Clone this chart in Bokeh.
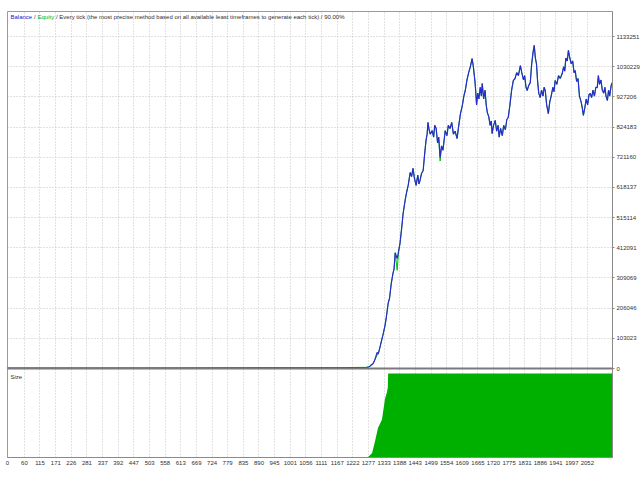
from bokeh.plotting import figure
from bokeh.models import FixedTicker, Label, Span, Range1d, LinearAxis
from bokeh.embed import file_html
from bokeh.resources import INLINE

# ---------------- data ----------------
x_tick_labels = ["0", "60", "115", "171", "226", "281", "337", "392", "447", "503",
                 "558", "613", "669", "724", "779", "835", "890", "945", "1001", "1056",
                 "1111", "1167", "1222", "1277", "1333", "1388", "1443", "1499", "1554",
                 "1609", "1665", "1720", "1775", "1831", "1886", "1941", "1997", "2052"]
y_tick_labels = ["0", "103023", "206046", "309069", "412091", "515114", "618137",
                 "721160", "824183", "927206", "1030229", "1133251"]

trade = [0, 300, 600, 900, 1100, 1200, 1272, 1280, 1294, 1300, 1308, 1312, 1318, 1325,
         1330, 1336, 1340, 1347, 1352, 1358, 1364, 1368, 1372, 1379, 1384, 1389, 1395,
         1400, 1407, 1412, 1418, 1425, 1430, 1435, 1440, 1446, 1452, 1456, 1460, 1465,
         1471, 1476, 1481, 1485, 1488, 1492, 1496, 1503, 1508, 1512, 1517, 1522, 1526,
         1531, 1536, 1541, 1549, 1555, 1560, 1566, 1572, 1578, 1584, 1591, 1597, 1603,
         1610, 1615, 1620, 1626, 1632, 1638, 1644, 1648, 1652, 1655, 1660, 1664, 1668,
         1673, 1677, 1680, 1685, 1690, 1694, 1698, 1703, 1708, 1712, 1715, 1720, 1726,
         1731, 1736, 1740, 1745, 1751, 1756, 1762, 1767, 1772, 1778, 1784, 1790, 1796,
         1802, 1808, 1815, 1820, 1826, 1830, 1835, 1839, 1844, 1850, 1855, 1860, 1864,
         1868, 1872, 1876, 1880, 1885, 1890, 1895, 1899, 1903, 1908, 1914, 1919, 1924,
         1930, 1934, 1938, 1944, 1950, 1956, 1963, 1968, 1972, 1976, 1981, 1985, 1990,
         1995, 2000, 2005, 2009, 2014, 2019, 2024, 2030, 2034, 2038, 2043, 2048, 2053,
         2058, 2062, 2067, 2072, 2077, 2082, 2087, 2091, 2095, 2100, 2105, 2110, 2114,
         2118, 2123, 2127, 2131, 2136, 2140]
balance = [1000, 1300, 1700, 2100, 2600, 3200, 4000, 6000, 17000, 30000, 55000, 50000,
           72000, 100000, 120000, 147000, 170000, 222000, 240000, 290000, 324000, 340000,
           395000, 375000, 400000, 427000, 480000, 529000, 573000, 600000, 625000, 669000,
           655000, 683000, 650000, 625000, 660000, 630000, 642000, 665000, 676000, 730000,
           778000, 800000, 840000, 815000, 800000, 812000, 790000, 830000, 819000, 770000,
           790000, 720000, 760000, 745000, 812000, 795000, 830000, 819000, 840000, 800000,
           810000, 785000, 830000, 870000, 900000, 930000, 949000, 985000, 1010000,
           1030000, 1058000, 1035000, 1000000, 973000, 900000, 940000, 920000, 960000,
           930000, 973000, 920000, 950000, 900000, 874000, 860000, 830000, 845000, 802000,
           830000, 847000, 810000, 830000, 790000, 820000, 795000, 830000, 815000, 850000,
           857000, 900000, 950000, 983000, 990000, 1010000, 1000000, 1034000, 1010000,
           985000, 1000000, 960000, 949000, 965000, 976000, 1040000, 1080000, 1103000,
           1060000, 1040000, 980000, 940000, 925000, 950000, 930000, 960000, 949000,
           900000, 870000, 910000, 930000, 960000, 945000, 983000, 970000, 1000000, 990000,
           1007000, 1030000, 1015000, 1060000, 1050000, 1086000, 1060000, 1040000, 1050000,
           1010000, 1017000, 980000, 990000, 930000, 910000, 890000, 864000, 890000,
           920000, 900000, 935000, 939000, 925000, 950000, 930000, 960000, 959000, 1000000,
           970000, 985000, 950000, 940000, 960000, 930000, 915000, 950000, 930000, 965000,
           976000]
# equity drawdowns (trade -> equity) where equity dips below balance
equity_dips = {1308: 45000, 1379: 335000, 1531: 708000}

size_trade = [0, 1272, 1276, 1290, 1301, 1311, 1325, 1336, 1343, 1346, 1347, 2140]
size_lots = [0.0, 0.0, 0.3, 2.5, 10.0, 17.5, 22.5, 35.0, 39.0, 42.0, 50.0, 50.0]

equity = [equity_dips.get(t, b) for t, b in zip(trade, balance)]
x_ticks = [int(s) for s in x_tick_labels]
y_ticks = [int(s) for s in y_tick_labels]

FONT = "Liberation Sans"
TXT = "#303030"
GRID = "#c4c4c4"
X_END = 2141

# ---------------- one figure holding both panels ----------------
p = figure(frame_width=605, frame_height=446, x_range=Range1d(0, X_END),
           y_range=Range1d(-303800, 1218700), y_axis_location="right",
           output_backend="svg", toolbar_location=None,
           min_border_top=11, min_border_left=7, min_border_bottom=0, min_border_right=0,
           background_fill_color="white", border_fill_color="white")
p.extra_y_ranges = {"size": Range1d(0, 265.5)}
p.outline_line_color = "#9a9a9a"

p.xgrid.ticker = FixedTicker(ticks=x_ticks)
p.ygrid.ticker = FixedTicker(ticks=y_ticks)
for g in (p.xgrid, p.ygrid):
    g.grid_line_color = GRID
    g.grid_line_dash = "1 2"
    g.grid_line_width = 1

ya = p.yaxis[0]
ya.ticker = FixedTicker(ticks=y_ticks)
ya.major_label_overrides = {t: s for t, s in zip(y_ticks, y_tick_labels)}
ya.major_label_text_font = FONT
ya.major_label_text_font_size = "6px"
ya.major_label_text_color = TXT
ya.major_label_standoff = 2
ya.major_tick_out = 2
ya.major_tick_in = 0
ya.minor_tick_out = 0
ya.minor_tick_in = 0
ya.axis_line_color = "#8a8a8a"
ya.major_tick_line_color = "#8a8a8a"

xa = p.xaxis[0]
xa.ticker = FixedTicker(ticks=x_ticks)
xa.major_label_text_font = FONT
xa.major_label_text_font_size = "6px"
xa.major_label_text_color = TXT
xa.major_label_standoff = 3
xa.major_tick_out = 0
xa.major_tick_in = 0
xa.minor_tick_out = 0
xa.minor_tick_in = 0
xa.axis_line_color = "#8a8a8a"

# lot size panel (bottom part of the frame)
p.varea(x=size_trade, y1=0, y2=size_lots, fill_color="#00b000", y_range_name="size")

# balance / equity panel
p.add_layout(Span(location=0, dimension="width", line_color="#7a7a7a", line_width=2))
p.line(trade, equity, line_color="#00c000", line_width=1)
p.line(trade, balance, line_color="#2a2ad0", line_width=1.2)

fs = "6px"
title_y = 441
p.add_layout(Label(x=3, y=title_y, x_units="screen", y_units="screen", text="Balance",
                   text_font=FONT, text_font_size=fs, text_color="#2020d0",
                   text_baseline="middle"))
p.add_layout(Label(x=26.5, y=title_y, x_units="screen", y_units="screen", text="/",
                   text_font=FONT, text_font_size=fs, text_color=TXT,
                   text_baseline="middle"))
p.add_layout(Label(x=30, y=title_y, x_units="screen", y_units="screen", text="Equity",
                   text_font=FONT, text_font_size=fs, text_color="#00b000",
                   text_baseline="middle"))
p.add_layout(Label(x=48.5, y=title_y, x_units="screen", y_units="screen",
                   text="/ Every tick (the most precise method based on all available least timeframes to generate each tick) / 90.00%",
                   text_font=FONT, text_font_size=fs, text_color=TXT,
                   text_baseline="middle"))
p.add_layout(Label(x=3, y=81, x_units="screen", y_units="screen", text="Size",
                   text_font=FONT, text_font_size=fs, text_color=TXT,
                   text_baseline="middle"))

open("out.html", "w").write(file_html(p, INLINE))
